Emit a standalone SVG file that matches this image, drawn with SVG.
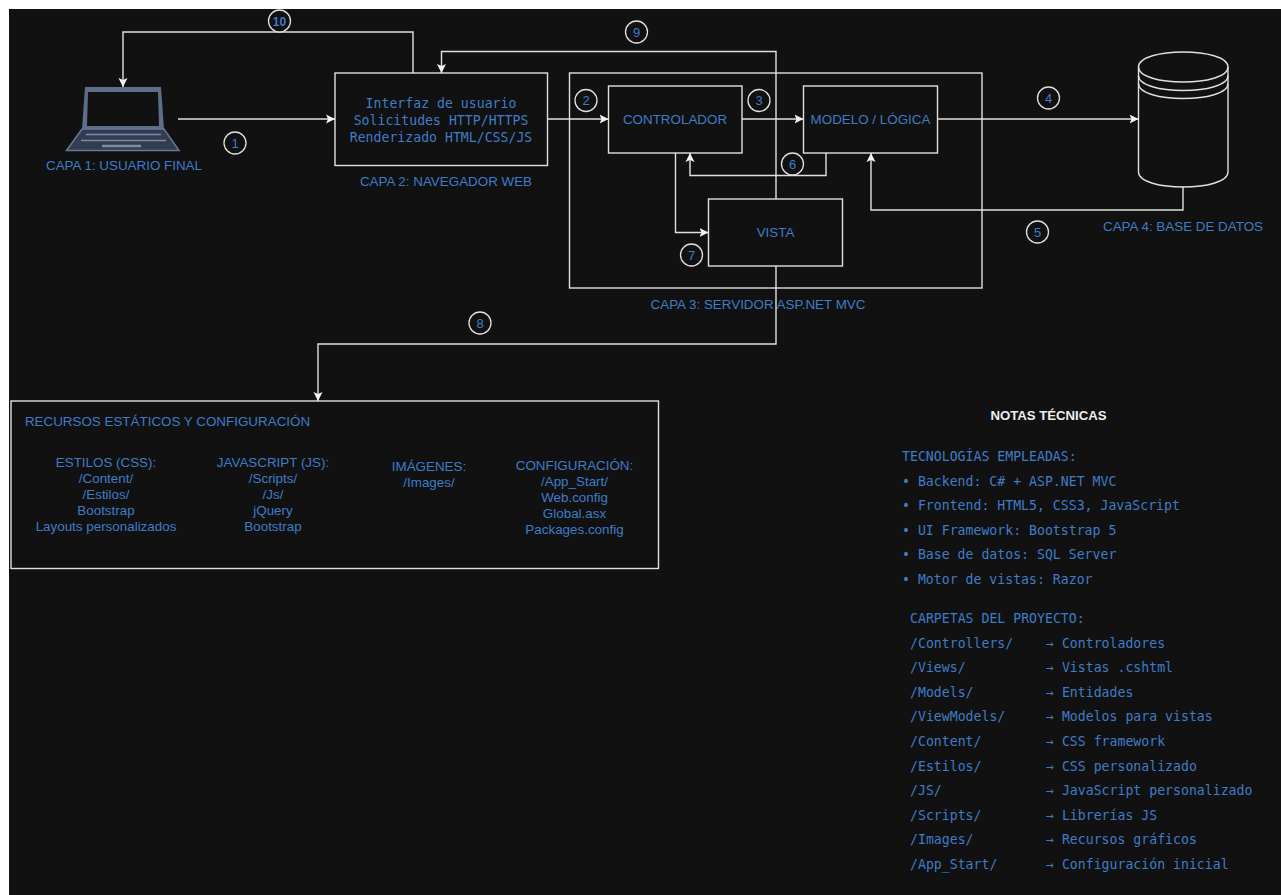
<svg xmlns="http://www.w3.org/2000/svg" width="1281" height="895" viewBox="0 0 1281 895">
<style>
.box{fill:none;stroke:#e0e0e0;stroke-width:1.4}
.conn{fill:none;stroke:#e0e0e0;stroke-width:1.4}
.t{font-family:"Liberation Sans",Arial,sans-serif;font-size:13.4px;fill:#3f7cc8;text-anchor:middle}
.m{font-family:"DejaVu Sans Mono","Liberation Mono",monospace;font-size:13.2px;fill:#3f7cc8}
.c{font-size:13px;font-family:"Liberation Sans",Arial,sans-serif;fill:#3f7cc8;text-anchor:middle}
.bd{fill:#111;stroke:#e0e0e0;stroke-width:1.3}
</style>
<defs>
<marker id="a" markerUnits="userSpaceOnUse" markerWidth="11" markerHeight="11" refX="9" refY="5" orient="auto">
<path d="M0 0.500L9 5L0 9.500L2 5Z" fill="#f2f2f2"/>
</marker>
</defs>
<rect width="1281" height="895" fill="#fff"/>
<rect x="9" y="9" width="1272" height="886" fill="#111"/>

<g id="usuario">
<path fill="#5d6d8a" fill-rule="evenodd" d="M85 87H161L164 129H82ZM88 92L87 126H159L158 92Z"/>
<path fill="#333d4f" stroke="#66789a" stroke-width="1.500" d="M82 129L66.500 150.500H179L164 129Z"/>
<path d="M86 134.500H161M81 140.500H166" fill="none" stroke="#7d8ba5" stroke-width="1.500"/>
<path d="M102 146H141" stroke="#7d8ba5" stroke-width="2.500"/>
<text class="t" x="124" y="170">CAPA 1: USUARIO FINAL</text>
</g>

<g id="navegador">
<rect class="box" x="335" y="73" width="212.500" height="92.500"/>
<text class="m" x="441" y="108" text-anchor="middle">Interfaz de usuario</text>
<text class="m" x="441" y="125" text-anchor="middle">Solicitudes HTTP/HTTPS</text>
<text class="m" x="441" y="142" text-anchor="middle">Renderizado HTML/CSS/JS</text>
<text class="t" x="446" y="186">CAPA 2: NAVEGADOR WEB</text>
</g>

<g id="servidor">
<rect class="box" x="569.500" y="73" width="412.500" height="215"/>
<text class="t" x="758" y="309">CAPA 3: SERVIDOR ASP.NET MVC</text>
</g>

<g id="connectors">
<path class="conn" marker-end="url(#a)" d="M178 119H335"/>
<path class="conn" marker-end="url(#a)" d="M547.500 119H608.500"/>
<path class="conn" marker-end="url(#a)" d="M742 119H803.500"/>
<path class="conn" marker-end="url(#a)" d="M937.500 119H1138.500"/>
<path class="conn" marker-end="url(#a)" d="M1183 186.500V210H871V153"/>
<path class="conn" marker-end="url(#a)" d="M826 153V175.500H690V153"/>
<path class="conn" marker-end="url(#a)" d="M675.500 153V232.500H708.500"/>
<path class="conn" marker-end="url(#a)" d="M776 266V344H318V401"/>
<path class="conn" marker-end="url(#a)" d="M776 199V51.500H441.500V73"/>
<path class="conn" marker-end="url(#a)" d="M413 73V32H123V87"/>
</g>

<g id="controlador">
<rect class="box" x="608.500" y="86" width="133.500" height="67"/>
<text class="t" x="675" y="124">CONTROLADOR</text>
</g>
<g id="modelo">
<rect class="box" x="803.500" y="86" width="134" height="67"/>
<text class="t" x="870.500" y="124">MODELO / LÓGICA</text>
</g>
<g id="vista">
<rect class="box" x="708.500" y="199" width="134" height="67"/>
<text class="t" x="775.500" y="237">VISTA</text>
</g>

<g id="base-datos">
<path class="box" d="M1138.500 67C1138.500 47 1228 47 1228 67V172C1228 192 1138.500 192 1138.500 172Z"/>
<path class="box" d="M1138.500 67C1138.500 87 1228 87 1228 67M1138.500 75.500C1138.500 95.500 1228 95.500 1228 75.500M1138.500 83.500C1138.500 103.500 1228 103.500 1228 83.500"/>
<text class="t" x="1183" y="231">CAPA 4: BASE DE DATOS</text>
</g>

<g id="recursos">
<rect class="box" x="11" y="401" width="647.500" height="167.500"/>
<text class="t" x="167.500" y="426">RECURSOS ESTÁTICOS Y CONFIGURACIÓN</text>
<text class="t" x="106" y="467">ESTILOS (CSS):</text>
<text class="t" x="106" y="483">/Content/</text>
<text class="t" x="106" y="499">/Estilos/</text>
<text class="t" x="106" y="515">Bootstrap</text>
<text class="t" x="106" y="531">Layouts personalizados</text>
<text class="t" x="273" y="467">JAVASCRIPT (JS):</text>
<text class="t" x="273" y="483">/Scripts/</text>
<text class="t" x="273" y="499">/Js/</text>
<text class="t" x="273" y="515">jQuery</text>
<text class="t" x="273" y="531">Bootstrap</text>
<text class="t" x="429" y="471">IMÁGENES:</text>
<text class="t" x="429" y="487">/Images/</text>
<text class="t" x="574.500" y="470">CONFIGURACIÓN:</text>
<text class="t" x="574.500" y="486">/App_Start/</text>
<text class="t" x="574.500" y="502">Web.config</text>
<text class="t" x="574.500" y="518">Global.asx</text>
<text class="t" x="574.500" y="534">Packages.config</text>
</g>

<g id="notas">
<text x="1048.500" y="420" style="font-family:'Liberation Sans',Arial,sans-serif;font-size:13.2px;font-weight:bold;fill:#eee;text-anchor:middle">NOTAS TÉCNICAS</text>
<text class="m" x="902" y="461">TECNOLOGÍAS EMPLEADAS:</text>
<text class="m" x="902" y="486">• Backend: C# + ASP.NET MVC</text>
<text class="m" x="902" y="510">• Frontend: HTML5, CSS3, JavaScript</text>
<text class="m" x="902" y="535">• UI Framework: Bootstrap 5</text>
<text class="m" x="902" y="559">• Base de datos: SQL Server</text>
<text class="m" x="902" y="584">• Motor de vistas: Razor</text>
<text class="m" x="910" y="623">CARPETAS DEL PROYECTO:</text>
<text class="m" x="910" y="648">/Controllers/</text><text class="m" x="1046" y="648">→ Controladores</text>
<text class="m" x="910" y="672">/Views/</text><text class="m" x="1046" y="672">→ Vistas .cshtml</text>
<text class="m" x="910" y="697">/Models/</text><text class="m" x="1046" y="697">→ Entidades</text>
<text class="m" x="910" y="721">/ViewModels/</text><text class="m" x="1046" y="721">→ Modelos para vistas</text>
<text class="m" x="910" y="746">/Content/</text><text class="m" x="1046" y="746">→ CSS framework</text>
<text class="m" x="910" y="771">/Estilos/</text><text class="m" x="1046" y="771">→ CSS personalizado</text>
<text class="m" x="910" y="795">/JS/</text><text class="m" x="1046" y="795">→ JavaScript personalizado</text>
<text class="m" x="910" y="820">/Scripts/</text><text class="m" x="1046" y="820">→ Librerías JS</text>
<text class="m" x="910" y="844">/Images/</text><text class="m" x="1046" y="844">→ Recursos gráficos</text>
<text class="m" x="910" y="869">/App_Start/</text><text class="m" x="1046" y="869">→ Configuración inicial</text>
</g>

<g id="n1"><circle class="bd" cx="235" cy="143" r="11"/><text class="c" x="235" y="147.500">1</text></g>
<g id="n2"><circle class="bd" cx="586" cy="100.500" r="11"/><text class="c" x="586" y="105">2</text></g>
<g id="n3"><circle class="bd" cx="759" cy="100.500" r="11"/><text class="c" x="759" y="105">3</text></g>
<g id="n4"><circle class="bd" cx="1048.500" cy="98" r="11"/><text class="c" x="1048.500" y="102.500">4</text></g>
<g id="n5"><circle class="bd" cx="1037.500" cy="232" r="11"/><text class="c" x="1037.500" y="236.500">5</text></g>
<g id="n6"><circle class="bd" cx="792.500" cy="164" r="11"/><text class="c" x="792.500" y="168.500">6</text></g>
<g id="n7"><circle class="bd" cx="691.500" cy="255" r="11"/><text class="c" x="691.500" y="259.500">7</text></g>
<g id="n8"><circle class="bd" cx="480" cy="323" r="11"/><text class="c" x="480" y="327.500">8</text></g>
<g id="n9"><circle class="bd" cx="636.500" cy="32" r="11"/><text class="c" x="636.500" y="36.500">9</text></g>
<g id="n10"><circle class="bd" cx="279.500" cy="21" r="11"/><text class="c" x="279.500" y="25.500" style="font-weight:bold;font-size:12px">10</text></g>
</svg>
